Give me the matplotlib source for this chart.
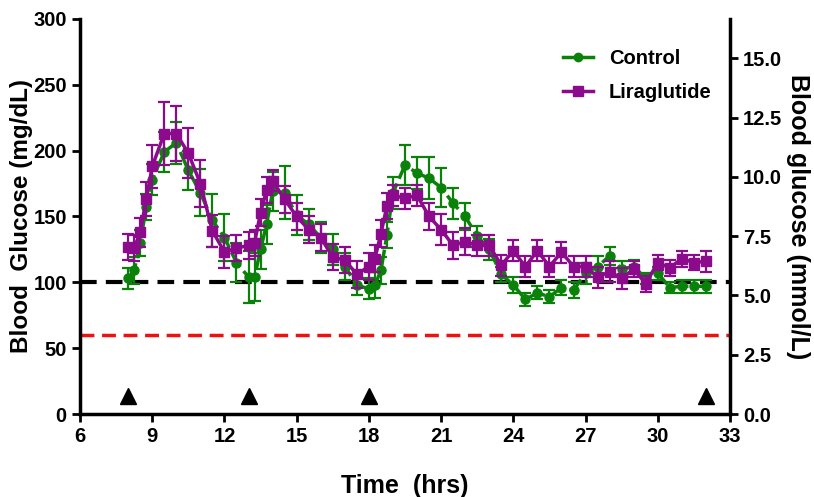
import numpy as np
import matplotlib
matplotlib.use('Agg')
import matplotlib.pyplot as plt
from matplotlib.lines import Line2D

plt.rcParams['font.family'] = ['Liberation Sans', 'DejaVu Sans']
plt.rcParams['font.weight'] = 'bold'

# sampling times (hrs)
tiempo = [8, 8.25, 8.5, 8.75, 9, 9.5, 10, 10.5, 11, 11.5, 12, 12.5,
          13, 13.25, 13.5, 13.75, 14, 14.5, 15, 15.5, 16, 16.5, 17, 17.5,
          18, 18.25, 18.5, 18.75, 19, 19.5, 20, 20.5, 21, 21.5, 22, 22.5,
          23, 23.5, 24, 24.5, 25, 25.5, 26, 26.5, 27, 27.5, 28, 28.5,
          29, 29.5, 30, 30.5, 31, 31.5, 32]

control = [103, 109, 130, 157, 178, 199, 206, 185, 168, 147, 134, 115,
           104, 104, 125, 144, 169, 168, 151, 144, 134, 125, 112, 98,
           95, 98, 109, 136, 168, 189, 183, 179, 172, 160, 150, 135,
           125, 106, 98, 87, 92, 89, 96, 94, 107, 112, 120, 110,
           112, 103, 107, 96, 97, 97, 97]
control_err = [8, 10, 10, 10, 12, 15, 16, 15, 18, 20, 18, 15,
               20, 18, 15, 15, 15, 20, 15, 12, 12, 12, 10, 8,
               8, 10, 10, 10, 12, 15, 12, 16, 15, 12, 10, 8,
               8, 6, 6, 5, 5, 5, 6, 6, 8, 8, 7, 6,
               5, 4, 5, 4, 5, 5, 5]

liraglutide = [127, 126, 138, 163, 188, 213, 213, 198, 175, 139, 123, 126,
               128, 130, 153, 170, 177, 163, 150, 140, 134, 119, 117, 106,
               112, 118, 137, 158, 166, 164, 166, 150, 140, 128, 131, 128,
               128, 113, 124, 112, 124, 112, 123, 112, 112, 104, 108, 103,
               110, 99, 115, 111, 118, 115, 116]
lira_err = [10, 10, 11, 13, 16, 24, 21, 19, 18, 12, 12, 10,
            10, 10, 10, 10, 8, 10, 10, 10, 10, 10, 10, 10,
            10, 10, 10, 10, 8, 8, 8, 10, 12, 10, 10, 8,
            8, 8, 8, 8, 8, 8, 8, 8, 8, 8, 8, 8,
            6, 6, 6, 6, 6, 6, 8]

refeicoes = [8, 13, 18, 32]   # meal markers
nivel_refeicao = 14
normal = 100
hipo = 60

verde = '#0a820a'
roxo = '#8c0a8c'

fig = plt.figure(figsize=(8.14, 4.97), dpi=100)
ax = fig.add_axes([0.0983, 0.167, 0.7985, 0.7948])

ax.plot([6, 33], [normal, normal], color='black', lw=3, dashes=(4, 2.2), zorder=1)
ax.plot([6, 33], [hipo, hipo], color='#ee1111', lw=2.5, dashes=(4, 2.2), zorder=1)

ax.errorbar(tiempo, control, yerr=control_err, color=verde, lw=2.5,
            marker='o', ms=6.5, capsize=4, elinewidth=1.6, capthick=1.6,
            dashes=(5, 1.5), zorder=3)
ax.errorbar(tiempo, liraglutide, yerr=lira_err, color=roxo, lw=2.5,
            marker='s', ms=7, capsize=4, elinewidth=1.6, capthick=1.6,
            zorder=4)

ax.plot(refeicoes, [nivel_refeicao] * len(refeicoes), linestyle='none',
        marker='^', ms=11, color='black', zorder=5)

ax.set_xlim(6, 33)
ax.set_ylim(0, 300)
ax.set_xticks(range(6, 34, 3))
ax.set_yticks(range(0, 301, 50))
ax.spines['top'].set_visible(False)
ax.spines['right'].set_visible(False)
for s in ['left', 'bottom']:
    ax.spines[s].set_linewidth(2.5)
ax.tick_params(width=2, length=6, labelsize=14.5)
ax.set_xlabel('Time  (hrs)', fontsize=18, fontweight='bold', labelpad=20)
ax.set_ylabel('Blood  Glucose (mg/dL)', fontsize=17.5, fontweight='bold', labelpad=0)

ax2 = ax.twinx()
ax2.set_ylim(0, 300 / 18)
ax2.set_yticks(np.arange(0, 15.1, 2.5))
ax2.set_yticklabels([f'{v:.1f}' for v in np.arange(0, 15.1, 2.5)])
ax2.spines['top'].set_visible(False)
ax2.spines['left'].set_visible(False)
ax2.spines['bottom'].set_visible(False)
ax2.spines['right'].set_linewidth(2.5)
ax2.tick_params(width=2, length=6, labelsize=14.5)
ax2.set_ylabel('Blood glucose (mmol/L)', fontsize=18, fontweight='bold',
               rotation=270, labelpad=20)

handles = [Line2D([], [], color=verde, lw=2.5, marker='o', ms=6),
           Line2D([], [], color=roxo, lw=2.5, marker='s', ms=6.5)]
leg = ax.legend(handles, ['Control', 'Liraglutide'], loc='upper right',
                bbox_to_anchor=(1.0, 0.97), frameon=False,
                fontsize=14.5, handlelength=1.5, labelspacing=0.75)
for t in leg.get_texts():
    t.set_fontweight('bold')

fig.savefig('out.png', dpi=100)
